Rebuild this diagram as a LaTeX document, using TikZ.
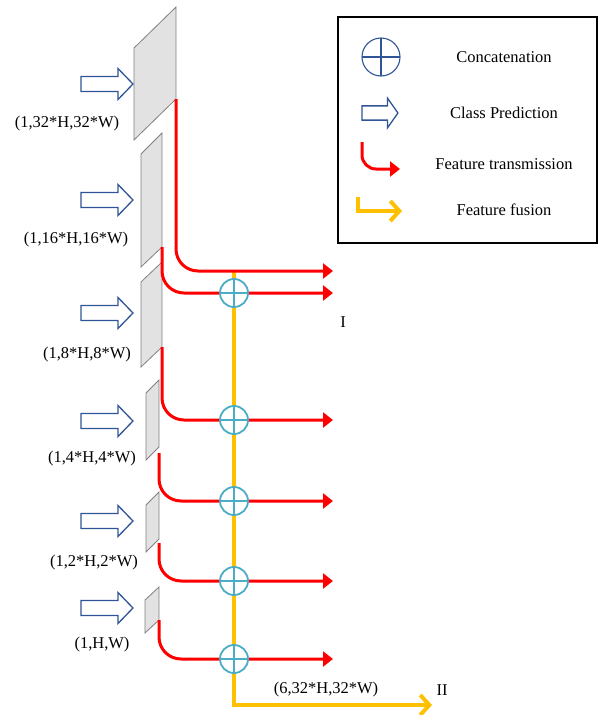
\documentclass[tikz,border=0pt]{standalone}
\usepackage{fontspec}
\setmainfont{Liberation Serif}
\usetikzlibrary{arrows.meta}

\definecolor{featred}{RGB}{255,0,0}
\definecolor{fusegold}{RGB}{255,192,0}
\definecolor{predblue}{RGB}{47,85,151}
\definecolor{catblue}{RGB}{75,172,198}
\definecolor{planegray}{RGB}{226,226,226}

\tikzset{
  plane/.style={fill=planegray, draw=gray, line width=0.8},
  transmit/.style={featred, line width=3, rounded corners=22, -{Triangle[length=10pt,width=15pt]}},
  fusion/.style={fusegold, line width=4, -{Straight Barb[length=9pt,width=20pt]}},
  concat/.style 2 args={circle, draw=#1, line width=#2, fill=white, inner sep=0,
    path picture={\draw[#1, line width=#2] (path picture bounding box.north) -- (path picture bounding box.south)
      (path picture bounding box.west) -- (path picture bounding box.east);}},
  txt/.style={font=\fontsize{16.5}{19}\selectfont, inner sep=0},
  clsarrow/.pic={\draw[predblue, line width=1.3] (-26,-7.5) -- (11,-7.5) -- (11,-15.5) -- (26,0)
      -- (11,15.5) -- (11,7.5) -- (-26,7.5) -- cycle;}
}

\begin{document}
\begin{tikzpicture}[x=1pt, y=-1pt] % one unit = one pixel, y runs down

        % Define parameters
        \def\cx{234}   % column of the concatenations
        \def\xend{333} % end of the red arrows

        \useasboundingbox (0,0) rectangle (602,715);

        % feature planes
        \filldraw[plane] (134,48) -- (176,7) -- (176,99) -- (134,140) -- cycle;
        \filldraw[plane] (141,154) -- (162,133) -- (162,247) -- (141,267) -- cycle;
        \filldraw[plane] (141,282) -- (162,262) -- (162,347) -- (141,367) -- cycle;
        \filldraw[plane] (146,393) -- (159,380) -- (159,447) -- (146,460) -- cycle;
        \filldraw[plane] (146,505) -- (159,492) -- (159,539) -- (146,552) -- cycle;
        \filldraw[plane] (145,600) -- (159,587) -- (159,620) -- (145,633) -- cycle;
        \coordinate (p0) at (176,99);
        \coordinate (p1) at (162,247);
        \coordinate (p2) at (162,347);
        \coordinate (p3) at (159,453);
        \coordinate (p4) at (159,543);
        \coordinate (p5) at (159,620);

        % class predictions
        \foreach \y in {84,200,313,421,521,608}
            \pic at (107,\y) {clsarrow};
        \node[txt] (s0) at (67,124) {(1,32*H,32*W)};
        \node[txt] (s1) at (76,240) {(1,16*H,16*W)};
        \node[txt] (s2) at (87,355) {(1,8*H,8*W)};
        \node[txt] (s3) at (92,459) {(1,4*H,4*W)};
        \node[txt] (s4) at (94,563) {(1,2*H,2*W)};
        \node[txt] (s5) at (102,645) {(1,H,W)};

        % concatenation points
        \coordinate (k1) at (\cx,293);
        \coordinate (k2) at (\cx,420);
        \coordinate (k3) at (\cx,501);
        \coordinate (k4) at (\cx,581);
        \coordinate (k5) at (\cx,659);
        \coordinate (o0) at (\xend,271);
        \coordinate (fuse) at (432,705);

        % feature fusion
        \draw[fusion] (k1 |- o0) -- (k1 |- fuse) -- (fuse);

        % feature transmission
        \draw[transmit] (p0) -- (p0 |- o0) -- (o0);
        \foreach \i in {1,...,5}
            \draw[transmit] (p\i) -- (p\i |- k\i) -- (k\i -| o0);

        \foreach \i in {1,...,5}
            \node[concat={catblue}{1.8}, minimum size=28] (c\i) at (k\i) {};

        % labels
        \node[txt] (lone) at (343,322) {I};
        \node[txt] (ltwo) at (442,690) {II};
        \node[txt] (lout) at (326,690) {(6,32*H,32*W)};

        % legend
        \draw[line width=1.5] (338,17) rectangle (597,243);
        \node[concat={predblue}{1.1}, minimum size=38] (lcat) at (381,57) {};
        \node[txt] (tcat) at (504,57) {Concatenation};
        \pic[xscale=0.69, yscale=0.95] at (380,113) {clsarrow};
        \node[txt] (tcls) at (504,113) {Class Prediction};
        \coordinate (lt) at (362,142);
        \coordinate (lte) at (400,169);
        \draw[transmit, rounded corners=14] (lt) -- (lt |- lte) -- (lte);
        \node[txt] (ttra) at (504,164) {Feature transmission};
        \coordinate (lf) at (358,197);
        \coordinate (lfe) at (402,211);
        \draw[fusion] (lf) -- (lf |- lfe) -- (lfe);
        \node[txt] (tfus) at (504,210) {Feature fusion};

    \end{tikzpicture}
\end{document}
